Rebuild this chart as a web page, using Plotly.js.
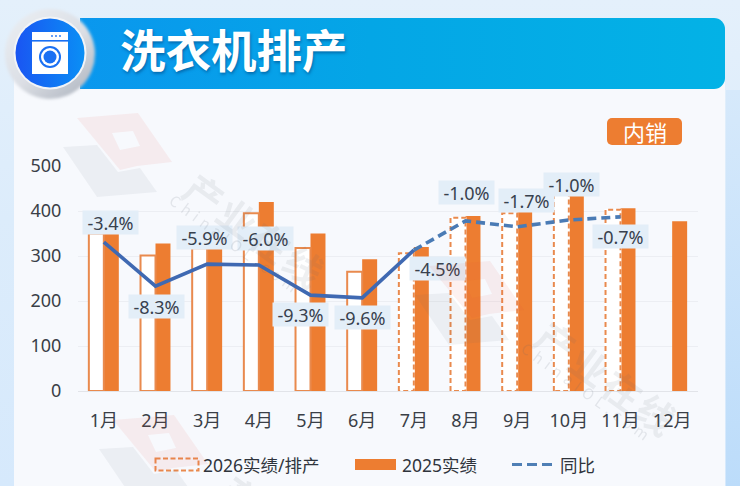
<!DOCTYPE html>
<html>
<head>
<meta charset="utf-8">
<script src="https://cdn.plot.ly/plotly-3.0.1.min.js"></script>
<style>
html,body{margin:0;padding:0;width:740px;height:486px;overflow:hidden;background:#dfeefb;}
#page{position:absolute;left:0;top:0;width:740px;height:486px;background:linear-gradient(180deg,#e4f0fb 0%,#dcecfb 45%,#d6e9fc 100%);}
#strip{position:absolute;left:726px;top:90px;width:14px;height:396px;background:linear-gradient(180deg,#d6e9fb,#bcdcfa);}
#panel{position:absolute;left:14px;top:60px;width:711px;height:426px;background:#f7f9fd;}
#band{position:absolute;left:80px;top:18px;width:645px;height:71px;border-radius:0 11px 11px 0;background:linear-gradient(90deg,#0a97ee 0%,#04a6e6 45%,#03b2e6 100%);}
#badge{position:absolute;left:607px;top:118px;width:75px;height:27px;border-radius:5px;background:#ed7d31;}
#gd{position:absolute;left:0;top:0;width:740px;height:486px;}
svg.layer{position:absolute;left:0;top:0;pointer-events:none;}
</style>
</head>
<body>
<div id="page"></div><div id="strip"></div><div id="panel"></div><div id="band"></div><div id="badge"></div>
<svg class="layer" width="740" height="486">
  <defs>
    <linearGradient id="halo" x1="0.1" x2="0.85" y1="0.05" y2="0.95"><stop offset="0" stop-color="#e9edf2"/><stop offset="0.55" stop-color="#dcdfe5"/><stop offset="1" stop-color="#b4bac4"/></linearGradient>
    <linearGradient id="disc" x1="0" x2="1" y1="0" y2="0"><stop offset="0" stop-color="#1a55f2"/><stop offset="1" stop-color="#0a8ff5"/></linearGradient>
    <filter id="soft" x="-20%" y="-20%" width="140%" height="140%"><feGaussianBlur stdDeviation="1.6"/></filter>
  </defs>
  <circle cx="50" cy="54" r="45" fill="url(#halo)" filter="url(#soft)"/>
  <circle cx="50" cy="53" r="36.5" fill="#f2f4f7"/>
  <circle cx="50" cy="53" r="34.5" fill="url(#disc)"/>
  <rect x="32" y="32" width="36" height="42" fill="#fff"/>
  <rect x="32" y="40" width="36" height="1.6" fill="#1a70f3"/>
  <circle cx="52" cy="36" r="0.9" fill="#1a70f3"/><circle cx="56" cy="36" r="0.9" fill="#1a70f3"/><circle cx="60" cy="36" r="0.9" fill="#1a70f3"/>
  <circle cx="50" cy="57" r="11" fill="#1a70f3"/><circle cx="50" cy="57" r="9" fill="#fff"/><circle cx="50" cy="57" r="6.5" fill="#1a70f3"/>
</svg>
<div id="gd"></div>
<svg class="layer" width="740" height="486" style="font-family:'Noto Sans CJK SC',sans-serif">
  <defs>
    <g id="wm">
      <path fill-rule="evenodd" d="M77,118 L138,113 L172,162 L137,166 L120,170 Z M112,133 L133,131 L140,146 L120,150 Z" fill="#e8483a" opacity="0.08"/>
      <path d="M63,147 L97,145 L118,172 L140,168 L157,192 L97,197 Z" fill="#5a6472" opacity="0.07"/>
      <text x="0" y="0" font-size="38" font-weight="700" fill="#5a6472" opacity="0.09" letter-spacing="3" transform="translate(180,195) rotate(36)">产业在线</text>
      <text x="0" y="0" font-size="15" fill="#5a6472" opacity="0.13" letter-spacing="5" transform="translate(168,203) rotate(36)">ChinaIOL.com</text>
    </g>
  </defs>
  <use href="#wm"/>
  <use href="#wm" x="352" y="148"/>
  <use href="#wm" x="36" y="302"/>
</svg>
<script>
// ---- data ----
const months = ['1月','2月','3月','4月','5月','6月','7月','8月','9月','10月','11月','12月'];
const yTicks = [0,100,200,300,400,500];
const sales2025 = [362,328,337,420,350,293,320,389,402,440,406,377];
const actual2026 = [350,301,317,395,318,265,null,null,null,null,null,null];
const plan2026 = [null,null,null,null,null,null,306,385,395,436,403,null];
const lineSolid = [331,233,282,280,213,207,313,null,null,null,null,null];
const lineDashed = [null,null,null,null,null,null,313,378,365,380,387,null];
const yoyLabels = ['-3.4%','-8.3%','-5.9%','-6.0%','-9.3%','-9.6%','-4.5%','-1.0%','-1.7%','-1.0%','-0.7%'];
const legendNames = ['2026实绩/排产','2025实绩','同比'];
const titleText = '洗衣机排产';
const badgeText = '内销';

// ---- layout constants ----
const W = 740, H = 486, L = 78, R = 698, T = 166, B = 391;
const px = x => (x - L) / (R - L);
const py = y => (B - y) / (B - T);
const labelShift = [[7,20],[1,-20],[-3,27],[7,27],[-10,-19],[0,-20],[24,-18],[1,28],[9,26],[3,36],[0,-20]];
const ORANGE = '#ed7d31', BAR_W = 0.29, OUTLINE = '#e98a4e';
const FONT = '"Noto Sans","Noto Sans CJK SC",sans-serif';

const bar = (y, name, extra) => Object.assign({type:'bar', x:months, y, name, width:BAR_W, showlegend:false, hoverinfo:'skip'}, extra);
const traces = [
  bar(sales2025, legendNames[1], {offset:0, marker:{color:ORANGE, line:{width:0}}}),
  bar(actual2026, legendNames[0], {offset:-BAR_W, marker:{color:'#ffffff', line:{color:OUTLINE, width:2}}}),
  bar(plan2026, legendNames[0], {offset:-BAR_W, marker:{color:'#ffffff', line:{color:'#ffffff', width:2}}}),
  bar(plan2026, legendNames[0], {offset:-BAR_W, marker:{color:'rgba(0,0,0,0)', line:{color:OUTLINE, width:2}}}),
  {type:'scatter', mode:'lines', x:months, y:lineSolid, name:legendNames[2], showlegend:false, hoverinfo:'skip',
   line:{color:'#3f69b2', width:3.6, shape:'linear'}},
  {type:'scatter', mode:'lines', x:months, y:lineDashed, name:legendNames[2], showlegend:false, hoverinfo:'skip',
   line:{color:'#4a7bb5', width:3.6, dash:'9px,5px'}}
];

const pointY = lineSolid.map((v,i)=> v!==null ? v : lineDashed[i]);
const annotations = yoyLabels.map((t,i)=>({
  x:months[i], y:pointY[i], xref:'x', yref:'y', text:t, showarrow:false,
  xshift:labelShift[i][0], yshift:labelShift[i][1],
  bgcolor:'#e3eef8', borderpad:2, width:51, height:19,
  font:{family:FONT, size:18, color:'#38414e'}
}));
const legendText = (x, t) => ({xref:'paper', yref:'paper', x:px(x), y:py(465), xanchor:'left', yanchor:'middle',
  text:t, showarrow:false, borderpad:0, font:{family:FONT, size:17.5, color:'#2f343c'}});
annotations.push(legendText(202, legendNames[0]), legendText(401, legendNames[1]), legendText(559, legendNames[2]));
annotations.push({xref:'paper', yref:'paper', x:px(644.5), y:py(131.5), xanchor:'center', yanchor:'middle', text:badgeText,
  showarrow:false, font:{family:FONT, size:22, color:'#ffffff'}});

const shapes = [
  {type:'rect', xref:'paper', yref:'paper', x0:px(155.5), x1:px(198.5), y0:py(458.5), y1:py(470.5),
   line:{color:OUTLINE, width:2, dash:'5px,2.5px'}, fillcolor:'rgba(0,0,0,0)'},
  {type:'rect', xref:'paper', yref:'paper', x0:px(355), x1:px(396), y0:py(459), y1:py(470),
   line:{width:0}, fillcolor:ORANGE},
  {type:'line', xref:'paper', yref:'paper', x0:px(512), x1:px(553), y0:py(464.5), y1:py(464.5),
   line:{color:'#4f7fb5', width:3, dash:'10px,5px'}}
];

const layout = {
  width:W, height:H,
  margin:{l:L, r:W-R, t:T, b:H-B, pad:0},
  paper_bgcolor:'rgba(0,0,0,0)', plot_bgcolor:'rgba(0,0,0,0)',
  barmode:'overlay', hovermode:false, showlegend:false,
  font:{family:FONT, color:'#333'},
  title:{text:titleText, xref:'container', yref:'container', x:120/W, xanchor:'left', y:1-52/H, yanchor:'middle',
         font:{family:'"Noto Sans CJK SC",sans-serif', size:45.5, weight:700, color:'#ffffff', shadow:'1px 2px 3px rgba(0,70,130,0.55)'}},
  xaxis:{type:'category', categoryorder:'array', categoryarray:months, tickmode:'array', tickvals:months, ticktext:months, range:[-0.5,11.5],
         ticks:'outside', ticklen:13, tickcolor:'rgba(0,0,0,0)', showgrid:false, showline:true, linecolor:'#e2e4e9', linewidth:1,
         zeroline:false, tickfont:{family:FONT, size:18, color:'#3a3f47'}},
  yaxis:{range:[0,500], tickmode:'array', tickvals:yTicks, ticks:'outside', ticklen:12, tickcolor:'rgba(0,0,0,0)',
         showgrid:true, gridcolor:'#eceef3', gridwidth:1, zeroline:false, showline:false,
         tickfont:{family:FONT, size:18, color:'#3a3f47'}},
  annotations, shapes
};

function dashBars(){
  const groups = document.querySelectorAll('#gd .barlayer .trace');
  if(groups[3]) groups[3].querySelectorAll('path').forEach(p=>{p.style.strokeDasharray='5px,3px';});
}
const gd = document.getElementById('gd');
Plotly.newPlot(gd, traces, layout, {displayModeBar:false, staticPlot:true}).then(()=>{
  dashBars();
  gd.on('plotly_afterplot', dashBars);
});
</script>
</body>
</html>
